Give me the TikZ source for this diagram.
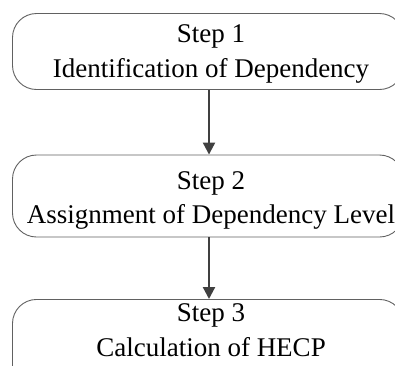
\documentclass[tikz,border=0pt]{standalone}
\usepackage{fontspec}
\setmainfont{Liberation Serif}
\usetikzlibrary{arrows.meta}
\tikzset{
  stepbox/.style={draw=black!62, line width=0.9pt, rectangle, rounded corners=24pt,
    minimum width=391pt, inner sep=0pt},
  steptext/.style={align=center, inner sep=0pt, text=black,
    font=\fontsize{27}{34.6}\selectfont},
  flow/.style={draw=black!75, line width=2.2pt,
    -{Triangle[width=12pt,length=12pt]}}
}
\begin{document}
\begin{tikzpicture}[x=1pt,y=-1pt]
  \useasboundingbox (0,0) rectangle (395,365);
  \clip (0,0) rectangle (395,365);
  % the three step boxes (they run past the right border)
  \node[stepbox, minimum height=76pt] (b1) at (208,51.5) {};
  \node[stepbox, minimum height=82pt] (b2) at (208,196) {};
  \node[stepbox, minimum height=100pt, anchor=north] (b3) at (208,299) {};
  % captions
  \node[steptext] (t1) at (211,53.7) {Step 1\\Identification of Dependency};
  \node[steptext] (t2) at (211,200.4) {Step 2\\Assignment of Dependency Level};
  \node[steptext] (t3) at (211,330.1) {Step 3\\Calculation of HECP};
  % connectors between the steps
  \draw[flow] (b1.south -| 209,0) -- (b2.north -| 209,0);
  \draw[flow] (b2.south -| 209,0) -- (b3.north -| 209,0);
\end{tikzpicture}
\end{document}
